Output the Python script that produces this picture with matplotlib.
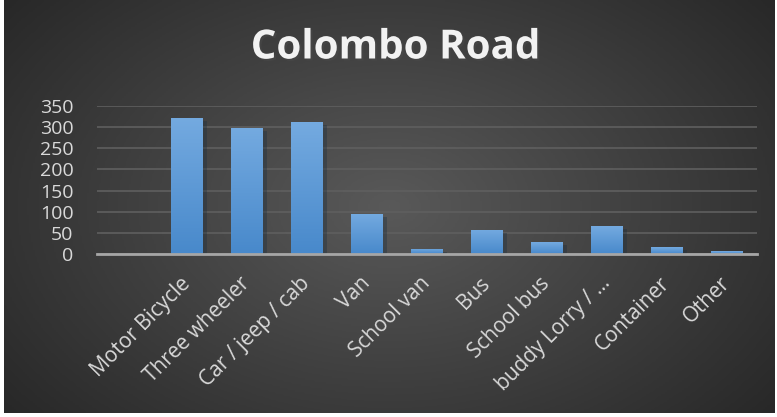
import numpy as np
import matplotlib.pyplot as plt
import matplotlib.patheffects as pe
from matplotlib.colors import LinearSegmentedColormap

# vehicle counts, first slot is empty in the original chart
categories = ['', 'Motor Bicycle', 'Three wheeler', 'Car / jeep / cab', 'Van',
              'School van', 'Bus', 'School bus', 'buddy Lorry / …', 'Container', 'Other']
counts = [0, 322, 298, 312, 95, 12, 57, 28, 66, 16, 7]
yticks = [0, 50, 100, 150, 200, 250, 300, 350]

plt.rcParams['font.family'] = ['Open Sans', 'DejaVu Sans']

fig = plt.figure(figsize=(7.77, 4.17), dpi=100)
fig.patch.set_facecolor('white')

# dark radial background
bg = fig.add_axes([4 / 777, 4 / 417, 771 / 777, 413 / 417])
yy, xx = np.mgrid[0:1:200j, 0:1:400j]
r = np.sqrt((xx - 0.5) ** 2 + ((yy - 0.5) * 0.8) ** 2)
bg_cmap = LinearSegmentedColormap.from_list('bg', ['#595959', '#252525'])
bg.imshow(r, cmap=bg_cmap, aspect='auto', extent=[0, 1, 0, 1], vmin=0, vmax=0.68)
bg.axis('off')

ax = fig.add_axes([97 / 777, 163 / 417, 660 / 777, 148 / 417])
ax.patch.set_alpha(0)

x = np.arange(len(categories))
bars = ax.bar(x, counts, width=0.52, color='#5b9bd5', zorder=3,
              path_effects=[pe.SimplePatchShadow(offset=(3, -2), alpha=0.35), pe.Normal()])

bar_cmap = LinearSegmentedColormap.from_list('bar', ['#4889cb', '#74aae0'])
grad = np.linspace(1, 0, 100).reshape(-1, 1)
for b in bars:
    if b.get_height() > 0:
        im = ax.imshow(grad, cmap=bar_cmap, aspect='auto', zorder=4,
                       extent=[b.get_x(), b.get_x() + b.get_width(), 0, b.get_height()])
        im.set_clip_path(b)

ax.set_xlim(-0.5, len(categories) - 0.5)
ax.set_ylim(0, 350)
ax.set_yticks(yticks)
ax.set_xticks(x)
ax.set_xticklabels(categories, rotation=45, ha='right', va='center', rotation_mode='anchor')

for s in ['left', 'right', 'top']:
    ax.spines[s].set_visible(False)
ax.spines['bottom'].set_color('#a6a6a6')
ax.spines['bottom'].set_linewidth(2)
ax.spines['bottom'].set_zorder(5)

ax.yaxis.grid(True, color='#5f5f5f', linewidth=1.2)
ax.set_axisbelow(True)
ax.tick_params(axis='both', length=0, labelcolor='#d9d9d9')
ax.tick_params(axis='y', pad=17, labelsize=14)
ax.tick_params(axis='x', pad=19, labelsize=15)

fig.text(395 / 777, 1 - 48 / 417, 'Colombo Road', ha='center', va='center',
         fontsize=29, fontweight='bold', color='#f2f2f2',
         path_effects=[pe.withSimplePatchShadow(offset=(1.5, -1.5), alpha=0.6)])

plt.savefig('out.png', dpi=100, facecolor=fig.get_facecolor())
